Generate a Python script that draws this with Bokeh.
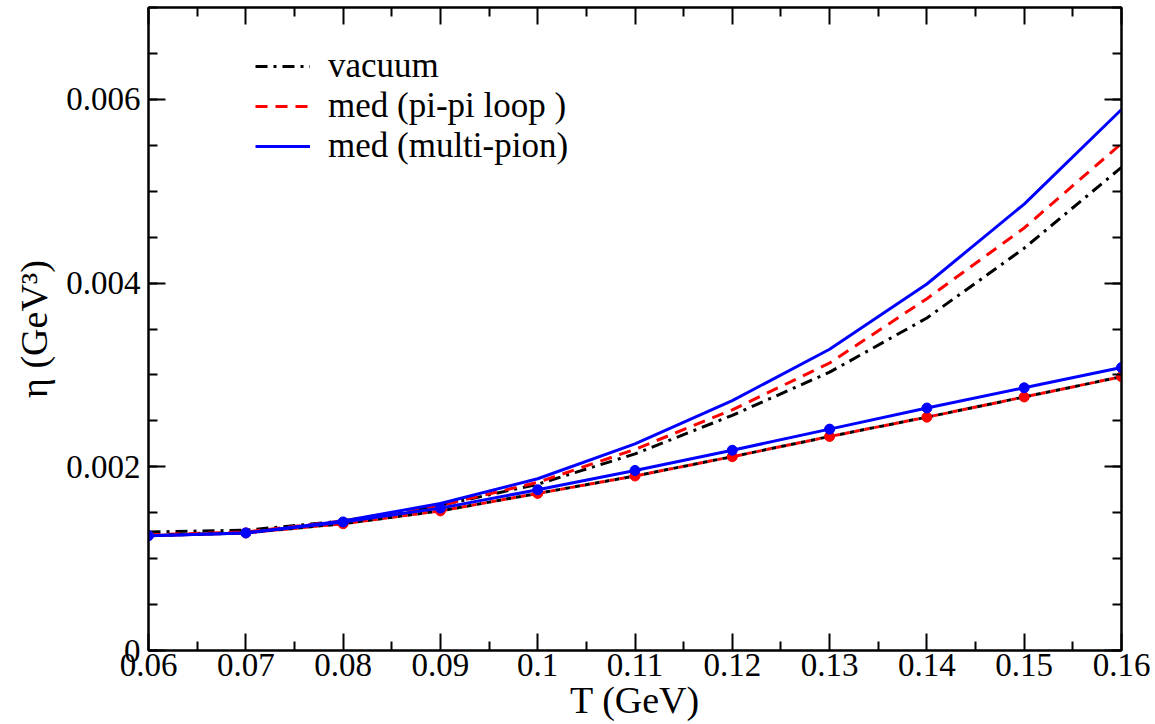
from bokeh.plotting import figure
from bokeh.models import (Range1d, FixedTicker, LinearAxis, Legend, LegendItem)
from bokeh.embed import file_html
from bokeh.resources import INLINE

# ---- data ----
T = [0.06, 0.07, 0.08, 0.09, 0.10, 0.11, 0.12, 0.13, 0.14, 0.15, 0.16]

vacuum_up = [0.00129, 0.00131, 0.00141, 0.00158, 0.00181, 0.00214, 0.00256, 0.00303, 0.00362, 0.00438, 0.00526]
pipi_up = [0.00126, 0.00129, 0.00141, 0.00158, 0.00183, 0.00219, 0.00262, 0.00313, 0.00383, 0.00460, 0.00552]
multi_up = [0.00125, 0.00128, 0.00141, 0.00160, 0.00187, 0.00225, 0.00272, 0.00328, 0.00399, 0.00486, 0.00589]

low_red = [0.00125, 0.00128, 0.00138, 0.00152, 0.00171, 0.00190, 0.00211, 0.00233, 0.00254, 0.00276, 0.00298]
low_blue = [0.00125, 0.00128, 0.00140, 0.00155, 0.00175, 0.00196, 0.00218, 0.00241, 0.00264, 0.00286, 0.00308]

x_ticks = [0.06, 0.07, 0.08, 0.09, 0.10, 0.11, 0.12, 0.13, 0.14, 0.15, 0.16]
x_labels = ["0.06", "0.07", "0.08", "0.09", "0.1", "0.11", "0.12", "0.13", "0.14", "0.15", "0.16"]
y_ticks = [0.0, 0.002, 0.004, 0.006]
y_labels = ["0", "0.002", "0.004", "0.006"]
legend_labels = ["vacuum", "med (pi-pi loop )", "med (multi-pion)"]

FONT = "Liberation Serif"

p = figure(width=1155, height=724, output_backend="svg", toolbar_location=None,
           x_range=Range1d(0.06, 0.16), y_range=Range1d(0, 0.007),
           min_border_left=148, min_border_right=34, min_border_top=7, min_border_bottom=74)
p.background_fill_color = "white"
p.border_fill_color = "white"
p.grid.visible = False
p.outline_line_color = "black"
p.outline_line_width = 2

x_minor = [0.065 + 0.01 * i for i in range(10)]
y_minor = [0.0005 * i for i in range(15)]


def style(ax):
    ax.axis_line_color = "black"
    ax.axis_line_width = 2
    ax.major_tick_in = 17
    ax.major_tick_out = 0
    ax.minor_tick_in = 9
    ax.minor_tick_out = 0
    ax.major_tick_line_width = 2
    ax.minor_tick_line_width = 2
    ax.major_tick_line_color = "black"
    ax.minor_tick_line_color = "black"
    ax.major_label_text_font = FONT
    ax.major_label_text_font_size = "33px"
    ax.major_label_text_color = "black"
    ax.axis_label_text_font = FONT
    ax.axis_label_text_font_size = "38px"
    ax.axis_label_text_font_style = "normal"
    ax.axis_label_text_color = "black"


xb = p.xaxis[0]
xb.ticker = FixedTicker(ticks=x_ticks, minor_ticks=x_minor)
xb.major_label_overrides = {t: l for t, l in zip(x_ticks, x_labels)}
xb.axis_label = "T (GeV)"
xb.major_label_standoff = 3
xb.axis_label_standoff = 0
style(xb)

yl = p.yaxis[0]
yl.ticker = FixedTicker(ticks=y_ticks, minor_ticks=y_minor)
yl.major_label_overrides = {t: l for t, l in zip(y_ticks, y_labels)}
yl.axis_label = "η (GeV³)"
yl.major_label_standoff = 8
yl.axis_label_standoff = 8
style(yl)

xt = LinearAxis(ticker=FixedTicker(ticks=x_ticks, minor_ticks=x_minor))
style(xt)
xt.major_label_overrides = {t: "" for t in x_ticks}
p.add_layout(xt, "above")
yr = LinearAxis(ticker=FixedTicker(ticks=y_ticks, minor_ticks=y_minor))
style(yr)
yr.major_label_overrides = {t: "" for t in y_ticks}
p.add_layout(yr, "right")

# upper curves
r_vac = p.line(T, vacuum_up, line_color="black", line_width=3, line_dash="12 6 3 6")
r_pipi = p.line(T, pipi_up, line_color="red", line_width=3, line_dash="12 8")
r_multi = p.line(T, multi_up, line_color="blue", line_width=3)

# lower curves
p.line(T, low_red, line_color="black", line_width=3, line_dash="5 5")
p.line(T, low_red, line_color="red", line_width=3, line_dash="5 5", line_dash_offset=5)
p.scatter(T, low_red, size=10, color="red")
p.line(T, low_blue, line_color="blue", line_width=3)
p.scatter(T, low_blue, size=10, color="blue")

legend = Legend(items=[LegendItem(label=legend_labels[0], renderers=[r_vac]),
                       LegendItem(label=legend_labels[1], renderers=[r_pipi]),
                       LegendItem(label=legend_labels[2], renderers=[r_multi])],
                location=(107, 484))
legend.background_fill_alpha = 0
legend.border_line_alpha = 0
legend.padding = 0
legend.margin = 0
legend.spacing = 0
legend.glyph_width = 55
legend.glyph_height = 34
legend.label_height = 34
legend.label_standoff = 18
legend.label_text_font = FONT
legend.label_text_font_size = "35px"
legend.label_text_color = "black"
p.add_layout(legend, "center")

open("out.html", "w").write(file_html(p, INLINE))
